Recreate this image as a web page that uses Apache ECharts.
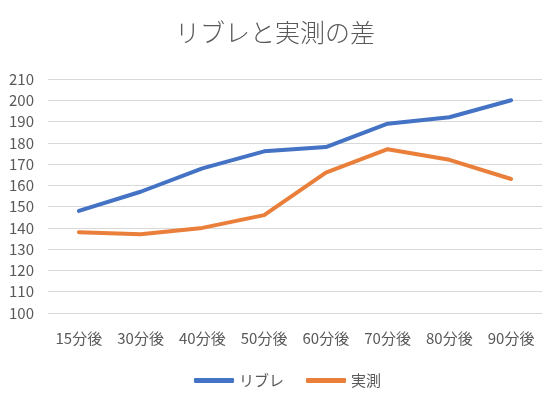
<!DOCTYPE html>
<html>
<head>
<meta charset="utf-8">
<script src="https://cdn.jsdelivr.net/npm/echarts@6/dist/echarts.min.js"></script>
<style>
  html, body { margin: 0; padding: 0; background: #fff; }
  #chart { width: 550px; height: 396px; }
</style>
</head>
<body>
<div id="chart"></div>
<script>
// カテゴリ
const categories = ['15分後', '30分後', '40分後', '50分後', '60分後', '70分後', '80分後', '90分後'];
// 系列
const libreValues = [148, 157, 168, 176, 178, 189, 192, 200];
const measuredValues = [138, 137, 140, 146, 166, 177, 172, 163];
const seriesNames = ['リブレ', '実測'];

const font = '"Noto Sans CJK JP", "Noto Sans", sans-serif';
const chart = echarts.init(document.getElementById('chart'));

const option = {
    animation: false,
    title: {
        text: 'リブレと実測の差',
        left: 'center',
        top: 15,
        textStyle: { color: '#595959', fontSize: 25, fontWeight: 300, fontFamily: font }
    },
    legend: {
        data: seriesNames,
        bottom: 3,
        left: 189,
        itemWidth: 40,
        itemHeight: 5,
        itemGap: 22,
        icon: 'roundRect',
        textStyle: { color: '#595959', fontSize: 15, fontFamily: font }
    },
    grid: { left: 48, right: 8, top: 79, bottom: 83 },
    xAxis: {
        type: 'category',
        data: categories,
        boundaryGap: true,
        axisLine: { show: false },
        axisTick: { show: false },
        axisLabel: { color: '#595959', fontSize: 15, fontFamily: font, margin: 18 }
    },
    yAxis: {
        type: 'value',
        min: 100,
        max: 210,
        interval: 10,
        axisLabel: { color: '#595959', fontSize: 15, fontFamily: font, margin: 14 },
        splitLine: { lineStyle: { color: '#d9d9d9', width: 1 } }
    },
    series: [
        {
            name: seriesNames[0],
            type: 'line',
            data: libreValues,
            showSymbol: false,
            symbol: 'none',
            lineStyle: { color: '#4472C4', width: 4, cap: 'round', join: 'round' },
            itemStyle: { color: '#4472C4' }
        },
        {
            name: seriesNames[1],
            type: 'line',
            data: measuredValues,
            showSymbol: false,
            symbol: 'none',
            lineStyle: { color: '#E97F3A', width: 4, cap: 'round', join: 'round' },
            itemStyle: { color: '#E97F3A' }
        }
    ]
};

chart.setOption(option);
</script>
</body>
</html>
